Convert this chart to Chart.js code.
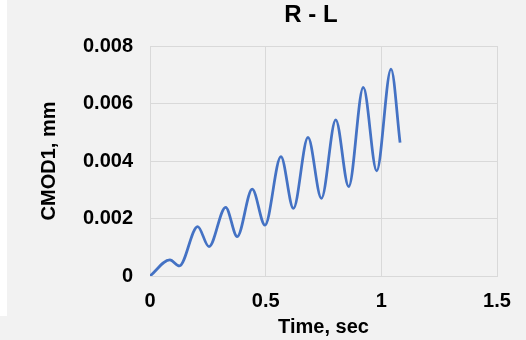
<!DOCTYPE html>
<html lang="en">

<head>
    <meta charset="UTF-8">
    <title>R - L</title>
    <script src="https://cdn.jsdelivr.net/npm/chart.js"></script>
    <style>
        html, body { margin: 0; padding: 0; background: #f2f2f2; }
        .franja { position: absolute; left: 0; top: 0; width: 7px; height: 316px; background: #fff; }
        .grafica { position: absolute; left: 0; top: 0; width: 526px; height: 340px; }
    </style>
</head>

<body>
    <div class="franja"></div>
    <div class="grafica">
        <canvas id="myChart" width="526" height="340"></canvas>
    </div>
    <script>
        // valores (picos y valles)
        const timeSec = [0, 0.086, 0.127, 0.206, 0.255, 0.327, 0.377, 0.442, 0.497, 0.566, 0.620,
            0.683, 0.741, 0.803, 0.859, 0.922, 0.980, 1.042, 1.081];
        const cmodMm = [0, 0.00056, 0.00035, 0.00172, 0.00102, 0.00239, 0.00137, 0.00302, 0.00177,
            0.00415, 0.00235, 0.00482, 0.00270, 0.00543, 0.00311, 0.00656, 0.00366, 0.00720, 0.00464];
        const xTicks = [0, 0.5, 1, 1.5];
        const yTicks = [0, 0.002, 0.004, 0.006, 0.008];
        const titulo = 'R - L';

        const fuente = "'Liberation Sans', Arial, sans-serif";
        const gris = '#d9d9d9';

        const puntos = timeSec.map((t, i) => {
            return { x: t, y: cmodMm[i] };
        });

        // el titulo va algo a la derecha del centro del lienzo
        const tituloPlugin = {
            id: 'tituloRL',
            afterDraw(chart) {
                const ctx = chart.ctx;
                ctx.save();
                ctx.fillStyle = '#000';
                ctx.font = 'bold 24px ' + fuente;
                ctx.textAlign = 'center';
                ctx.textBaseline = 'middle';
                ctx.fillText(titulo, 311, 15);
                ctx.restore();
            }
        };

        const config = {
            type: 'line',
            data: {
                datasets: [{
                    label: 'CMOD1',
                    data: puntos,
                    borderColor: '#4472c4',
                    borderWidth: 2.75,
                    pointRadius: 0,
                    fill: false,
                    cubicInterpolationMode: 'monotone'
                }]
            },
            options: {
                responsive: false,
                animation: false,
                layout: { padding: { left: 30, right: 29, top: 46, bottom: 0 } },
                plugins: {
                    legend: { display: false },
                    tooltip: { enabled: false },
                    title: { display: false }
                },
                scales: {
                    x: {
                        type: 'linear',
                        min: 0,
                        max: 1.5,
                        afterBuildTicks: (scale) => { scale.ticks = xTicks.map(v => ({ value: v })); },
                        afterFit: (scale) => { scale.height = 64; },
                        grid: { color: gris, lineWidth: 1, drawTicks: false },
                        border: { color: gris, width: 1 },
                        ticks: {
                            color: '#000',
                            padding: 13,
                            maxRotation: 0,
                            font: { family: fuente, size: 20, weight: 'bold' },
                            callback: (v) => String(+v.toFixed(1))
                        },
                        title: {
                            display: true,
                            text: 'Time, sec',
                            color: '#000',
                            font: { family: fuente, size: 20, weight: 'bold' },
                            padding: { top: 0, bottom: 1 }
                        }
                    },
                    y: {
                        min: 0,
                        max: 0.008,
                        afterBuildTicks: (scale) => { scale.ticks = yTicks.map(v => ({ value: v })); },
                        afterFit: (scale) => { scale.width = 120; },
                        grid: { color: gris, lineWidth: 1, drawTicks: false },
                        border: { color: gris, width: 1 },
                        ticks: {
                            color: '#000',
                            padding: 17,
                            font: { family: fuente, size: 20, weight: 'bold' },
                            callback: (v) => String(+v.toFixed(3))
                        },
                        title: {
                            display: true,
                            text: 'CMOD1, mm',
                            color: '#000',
                            font: { family: fuente, size: 20, weight: 'bold' },
                            padding: { top: 7, bottom: 0 }
                        }
                    }
                }
            },
            plugins: [tituloPlugin]
        };

        new Chart(document.getElementById('myChart'), config);
    </script>
</body>

</html>
